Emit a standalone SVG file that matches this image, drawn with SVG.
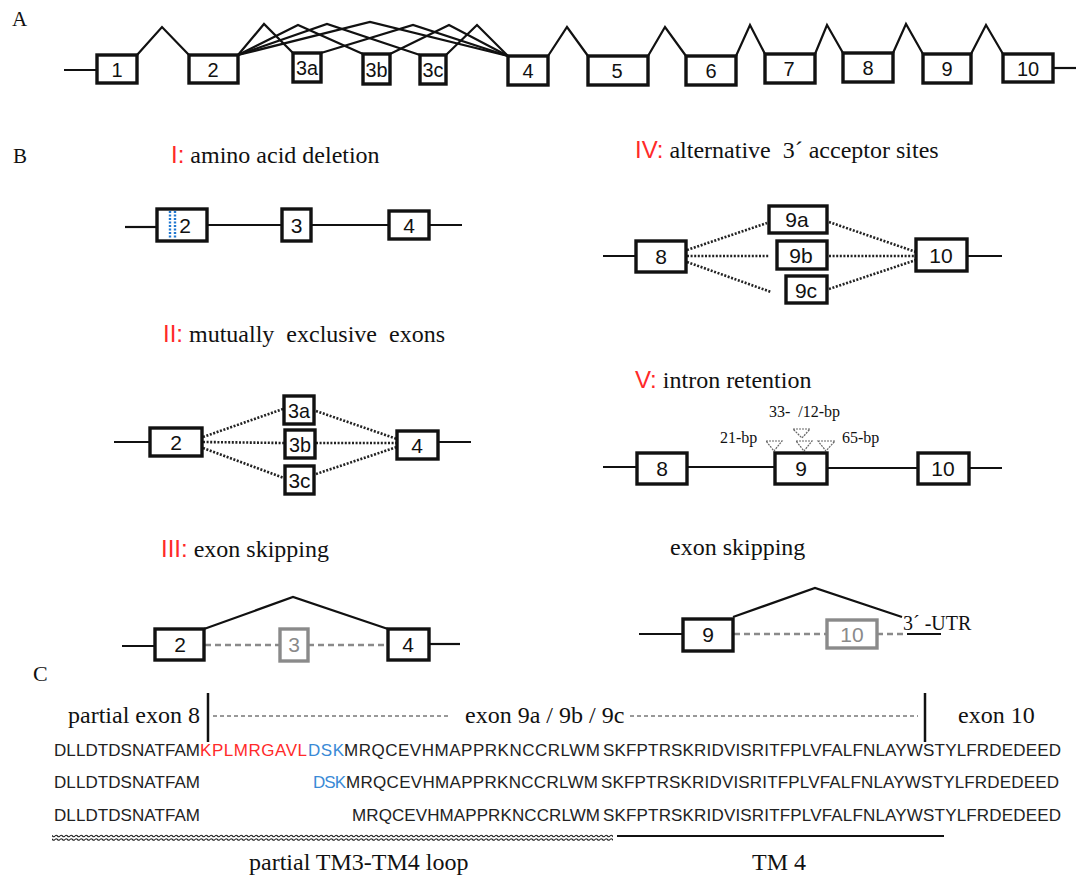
<svg xmlns="http://www.w3.org/2000/svg" width="1076" height="876" viewBox="0 0 1076 876">
<style>
.serif{font-family:"Liberation Serif","Times New Roman",serif;fill:#111}
.sans{font-family:"Liberation Sans",Arial,sans-serif;fill:#111}
.lbl{font-family:"Liberation Sans",Arial,sans-serif;fill:#111;text-anchor:middle}
.lA{font-size:20px}
.lB{font-size:21px}
.title{font-size:24px;white-space:pre}
.red{fill:#ff2a2a;font-family:"Liberation Sans",Arial,sans-serif}
.seq{font-family:"Liberation Sans",Arial,sans-serif;font-size:17px;fill:#222}
.seq.blue{fill:#3a8ad6}
.seq.rd{fill:#ff2a2a}
.ex{fill:#fff;stroke:#111;stroke-width:3.4}
.exg{fill:#fff;stroke:#8a8a8a;stroke-width:3.4}
.ln{fill:none;stroke:#111;stroke-width:2.2}
.dot{fill:none;stroke:#222;stroke-width:2.6;stroke-dasharray:2 1.6}
.dash{fill:none;stroke:#8a8a8a;stroke-width:2.4;stroke-dasharray:6 4}
.tri{fill:#fff;stroke:#666;stroke-width:1.2;stroke-dasharray:2 1}
.small{font-size:16px;white-space:pre}
</style>
<defs>
<pattern id="wave" x="0" y="834" width="5" height="8" patternUnits="userSpaceOnUse">
<path d="M0 2 Q1.25 0.5 2.5 2 T5 2 M0 5.5 Q1.25 4 2.5 5.5 T5 5.5" fill="none" stroke="#222" stroke-width="1.2"/>
</pattern>
</defs>

<!-- ===== A ===== -->
<text class="serif" x="12" y="26" font-size="21">A</text>
<g id="connectorsA">
<line class="ln" x1="64" y1="70" x2="97" y2="70"/>
<line class="ln" x1="1053" y1="68" x2="1076" y2="68"/>
<polyline class="ln" points="137,55 162,27 189,55"/>
<polyline class="ln" points="238,55 264,24 293,53"/>
<polyline class="ln" points="238,55 298,25 363,54"/>
<polyline class="ln" points="238,55 327,24 420,55"/>
<polyline class="ln" points="238,55 370,22 508,56"/>
<polyline class="ln" points="321,53 413,25 508,56"/>
<polyline class="ln" points="390,54 449,25 508,56"/>
<polyline class="ln" points="446,55 477,25 508,56"/>
<polyline class="ln" points="548,56 567,27 588,56"/>
<polyline class="ln" points="648,56 665,27 686,56"/>
<polyline class="ln" points="736,56 750,25 765,54"/>
<polyline class="ln" points="815,54 827,25 843,53"/>
<polyline class="ln" points="893,53 906,24 923,54"/>
<polyline class="ln" points="971,54 986,25 1003,54"/>
</g>
<g id="A1"><rect class="ex" x="97" y="55" width="40" height="28"/><text class="lbl lA" x="117" y="77">1</text></g>
<g id="A2"><rect class="ex" x="189" y="55" width="49" height="28"/><text class="lbl lA" x="213" y="77">2</text></g>
<g id="A3a"><rect class="ex" x="293" y="53" width="28" height="29"/><text class="lbl lA" x="307" y="75" textLength="22" lengthAdjust="spacingAndGlyphs">3a</text></g>
<g id="A3b"><rect class="ex" x="363" y="54" width="27" height="30"/><text class="lbl lA" x="376.5" y="77" textLength="22" lengthAdjust="spacingAndGlyphs">3b</text></g>
<g id="A3c"><rect class="ex" x="420" y="55" width="26" height="29"/><text class="lbl lA" x="433" y="77" textLength="21" lengthAdjust="spacingAndGlyphs">3c</text></g>
<g id="A4"><rect class="ex" x="508" y="56" width="40" height="29"/><text class="lbl lA" x="528" y="78">4</text></g>
<g id="A5"><rect class="ex" x="588" y="56" width="60" height="29"/><text class="lbl lA" x="617" y="78">5</text></g>
<g id="A6"><rect class="ex" x="686" y="56" width="50" height="29"/><text class="lbl lA" x="711" y="78">6</text></g>
<g id="A7"><rect class="ex" x="765" y="54" width="50" height="29"/><text class="lbl lA" x="789" y="76">7</text></g>
<g id="A8"><rect class="ex" x="843" y="53" width="50" height="29"/><text class="lbl lA" x="868" y="75">8</text></g>
<g id="A9"><rect class="ex" x="923" y="54" width="48" height="29"/><text class="lbl lA" x="947" y="76">9</text></g>
<g id="A10"><rect class="ex" x="1003" y="54" width="50" height="28"/><text class="lbl lA" x="1028" y="76">10</text></g>

<!-- ===== B ===== -->
<text class="serif" x="13" y="163" font-size="21">B</text>

<!-- I -->
<text class="serif title" x="171" y="163"><tspan class="red">I:</tspan> amino acid deletion</text>
<g id="connectorsBI">
<line class="ln" x1="125" y1="227" x2="157" y2="227"/>
<line class="ln" x1="207" y1="225" x2="282" y2="225" stroke="#333"/>
<line class="ln" x1="311" y1="225" x2="389" y2="225"/>
<line class="ln" x1="429" y1="225" x2="462" y2="225"/>
</g>
<g id="BI2"><rect class="ex" x="157" y="209" width="50" height="32"/>
<line x1="170" y1="211" x2="170" y2="239" stroke="#1f77d0" stroke-width="2.4" stroke-dasharray="2 1.5"/>
<line x1="175" y1="211" x2="175" y2="239" stroke="#1f77d0" stroke-width="2.4" stroke-dasharray="2 1.5"/>
<text class="lbl lB" x="185" y="233">2</text></g>
<g id="BI3"><rect class="ex" x="282" y="209" width="29" height="32"/><text class="lbl lB" x="296.5" y="233">3</text></g>
<g id="BI4"><rect class="ex" x="389" y="211" width="40" height="28"/><text class="lbl lB" x="409" y="233">4</text></g>

<!-- II -->
<text class="serif title" x="163" y="342"><tspan class="red">II:</tspan> mutually  exclusive  exons</text>
<g id="connectorsBII">
<line class="ln" x1="114" y1="442" x2="150" y2="442"/>
<line class="ln" x1="438" y1="442" x2="471" y2="442"/>
<line class="dot" x1="203" y1="437" x2="283" y2="409"/>
<line class="dot" x1="203" y1="442" x2="284" y2="443"/>
<line class="dot" x1="203" y1="448" x2="284" y2="478"/>
<line class="dot" x1="316" y1="411" x2="397" y2="439"/>
<line class="dot" x1="316" y1="443" x2="397" y2="443"/>
<line class="dot" x1="316" y1="474" x2="397" y2="447"/>
</g>
<g id="BII2"><rect class="ex" x="150" y="428" width="52" height="28"/><text class="lbl lB" x="176" y="450">2</text></g>
<g id="BII3a"><rect class="ex" x="284" y="396" width="30" height="28"/><text class="lbl lB" x="299" y="418" textLength="22" lengthAdjust="spacingAndGlyphs">3a</text></g>
<g id="BII3b"><rect class="ex" x="285" y="430" width="30" height="28"/><text class="lbl lB" x="300" y="452" textLength="22" lengthAdjust="spacingAndGlyphs">3b</text></g>
<g id="BII3c"><rect class="ex" x="285" y="466" width="29" height="28"/><text class="lbl lB" x="299.5" y="488" textLength="22" lengthAdjust="spacingAndGlyphs">3c</text></g>
<g id="BII4"><rect class="ex" x="397" y="431" width="41" height="28"/><text class="lbl lB" x="417" y="453">4</text></g>

<!-- III -->
<text class="serif title" x="161" y="557"><tspan class="red">III:</tspan> exon skipping</text>
<g id="connectorsBIII">
<line class="ln" x1="122" y1="646" x2="155" y2="646"/>
<polyline class="ln" points="204,629 293,597 388,629"/>
<line class="dash" x1="205" y1="645" x2="280" y2="645"/>
<line class="dash" x1="308" y1="645" x2="388" y2="645"/>
<line class="ln" x1="429" y1="644" x2="460" y2="644"/>
</g>
<g id="BIII2"><rect class="ex" x="155" y="629" width="49" height="31"/><text class="lbl lB" x="180" y="652">2</text></g>
<g id="BIII3"><rect class="exg" x="280" y="629" width="28" height="32"/><text class="lbl lB" x="294" y="652" style="fill:#8a8a8a">3</text></g>
<g id="BIII4"><rect class="ex" x="388" y="629" width="41" height="31"/><text class="lbl lB" x="408" y="652">4</text></g>

<!-- IV -->
<text class="serif title" x="635" y="158"><tspan class="red">IV:</tspan> alternative  3´ acceptor sites</text>
<g id="connectorsBIV">
<line class="ln" x1="603" y1="256" x2="636" y2="256"/>
<line class="ln" x1="967" y1="256" x2="1002" y2="256"/>
<line class="dot" x1="687" y1="250" x2="767" y2="223"/>
<line class="dot" x1="687" y1="256" x2="769" y2="256"/>
<line class="dot" x1="687" y1="262" x2="771" y2="292"/>
<line class="dot" x1="829" y1="222" x2="916" y2="252"/>
<line class="dot" x1="829" y1="256" x2="916" y2="256"/>
<line class="dot" x1="829" y1="289" x2="916" y2="260"/>
</g>
<g id="BIV8"><rect class="ex" x="636" y="241" width="50" height="31"/><text class="lbl lB" x="661" y="264">8</text></g>
<g id="BIV9a"><rect class="ex" x="769" y="206" width="58" height="27"/><text class="lbl lB" x="797" y="227">9a</text></g>
<g id="BIV9b"><rect class="ex" x="777" y="241" width="50" height="28"/><text class="lbl lB" x="801" y="263">9b</text></g>
<g id="BIV9c"><rect class="ex" x="786" y="276" width="41" height="27"/><text class="lbl lB" x="806" y="298">9c</text></g>
<g id="BIV10"><rect class="ex" x="916" y="239" width="51" height="32"/><text class="lbl lB" x="941" y="263">10</text></g>

<!-- V -->
<text class="serif title" x="635" y="388"><tspan class="red">V:</tspan> intron retention</text>
<text class="serif small" x="769" y="417">33-  /12-bp</text>
<text class="serif small" x="720" y="443">21-bp</text>
<text class="serif small" x="842" y="443">65-bp</text>
<g id="connectorsBV">
<line class="ln" x1="603" y1="467" x2="637" y2="467"/>
<line class="ln" x1="687" y1="467" x2="775" y2="467"/>
<line class="ln" x1="827" y1="468" x2="918" y2="468"/>
<line class="ln" x1="969" y1="468" x2="1002" y2="468"/>
</g>
<g id="BVtri">
<polygon class="tri" points="766,441 782,441 774,451"/>
<polygon class="tri" points="793,429 810,429 802,438"/>
<polygon class="tri" points="796,441 812,441 804,451"/>
<polygon class="tri" points="818,441 835,441 826,451"/>
</g>
<g id="BV8"><rect class="ex" x="637" y="453" width="50" height="31"/><text class="lbl lB" x="662" y="476">8</text></g>
<g id="BV9"><rect class="ex" x="775" y="453" width="52" height="31"/><text class="lbl lB" x="801" y="476">9</text></g>
<g id="BV10"><rect class="ex" x="918" y="453" width="51" height="31"/><text class="lbl lB" x="943" y="476">10</text></g>

<!-- exon skipping right -->
<text class="serif title" x="670" y="555">exon skipping</text>
<g id="connectorsBVI">
<line class="ln" x1="639" y1="634" x2="683" y2="634"/>
<polyline class="ln" points="733,617 815,588 902,617"/>
<line class="dash" x1="734" y1="634" x2="827" y2="634"/>
<line class="dash" x1="877" y1="634" x2="907" y2="634"/>
<line class="ln" x1="907" y1="634" x2="941" y2="634"/>
</g>
<g id="BVI9"><rect class="ex" x="683" y="619" width="50" height="32"/><text class="lbl lB" x="708" y="642">9</text></g>
<g id="BVI10"><rect class="exg" x="827" y="620" width="50" height="28"/><text class="lbl lB" x="852" y="642" style="fill:#8a8a8a">10</text></g>
<text class="serif" x="903" y="630" font-size="20" style="white-space:pre">3´ -UTR</text>

<!-- ===== C ===== -->
<text class="serif" x="33" y="681" font-size="22">C</text>
<text class="serif title" x="68" y="723">partial exon 8</text>
<text class="serif title" x="465" y="723">exon 9a / 9b / 9c</text>
<text class="serif title" x="958" y="723">exon 10</text>
<g id="connectorsC">
<line x1="208" y1="693" x2="208" y2="742" stroke="#111" stroke-width="2.5"/>
<line x1="925" y1="693" x2="925" y2="742" stroke="#111" stroke-width="2.5"/>
<line x1="213" y1="716" x2="451" y2="716" stroke="#333" stroke-width="1" stroke-dasharray="4 3"/>
<line x1="630" y1="716" x2="918" y2="716" stroke="#333" stroke-width="1" stroke-dasharray="4 3"/>
<rect x="52" y="834" width="561" height="8" fill="url(#wave)"/>
<line x1="617" y1="836" x2="944" y2="836" stroke="#111" stroke-width="2.2"/>
</g>
<g id="seq">
<text class="seq" x="54" y="756" textLength="146" lengthAdjust="spacing">DLLDTDSNATFAM</text>
<text class="seq rd" x="200" y="756" textLength="107" lengthAdjust="spacing">KPLMRGAVL</text>
<text class="seq blue" x="308" y="756" textLength="36" lengthAdjust="spacing">DSK</text>
<text class="seq" x="344" y="756" textLength="256" lengthAdjust="spacing">MRQCEVHMAPPRKNCCRLWM</text>
<text class="seq" x="603" y="756" textLength="458" lengthAdjust="spacing">SKFPTRSKRIDVISRITFPLVFALFNLAYWSTYLFRDEDEED</text>

<text class="seq" x="54" y="788" textLength="146" lengthAdjust="spacing">DLLDTDSNATFAM</text>
<text class="seq blue" x="313" y="788" textLength="33" lengthAdjust="spacing">DSK</text>
<text class="seq" x="346" y="788" textLength="252" lengthAdjust="spacing">MRQCEVHMAPPRKNCCRLWM</text>
<text class="seq" x="601" y="788" textLength="458" lengthAdjust="spacing">SKFPTRSKRIDVISRITFPLVFALFNLAYWSTYLFRDEDEED</text>

<text class="seq" x="54" y="821" textLength="146" lengthAdjust="spacing">DLLDTDSNATFAM</text>
<text class="seq" x="352" y="821" textLength="248" lengthAdjust="spacing">MRQCEVHMAPPRKNCCRLWM</text>
<text class="seq" x="603" y="821" textLength="458" lengthAdjust="spacing">SKFPTRSKRIDVISRITFPLVFALFNLAYWSTYLFRDEDEED</text>
</g>
<text class="serif title" x="249" y="870">partial TM3-TM4 loop</text>
<text class="serif title" x="752" y="870">TM 4</text>
</svg>
